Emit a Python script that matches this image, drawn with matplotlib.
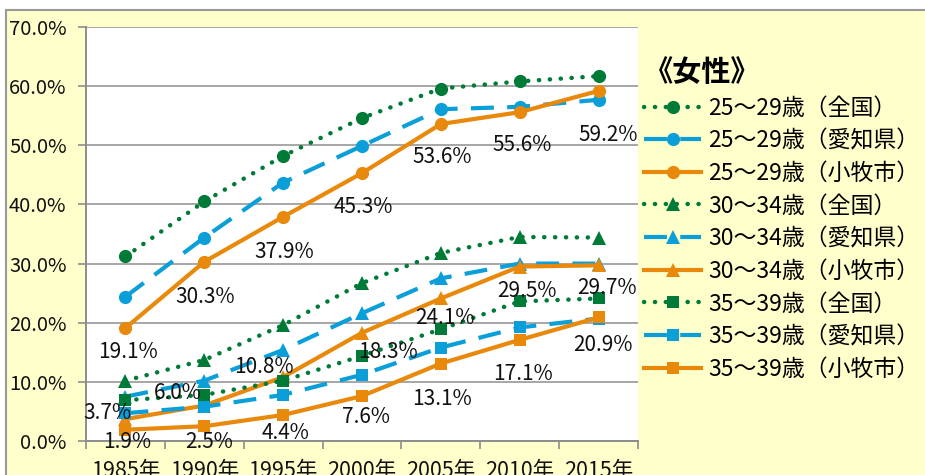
import matplotlib
matplotlib.use("Agg")
import matplotlib.pyplot as plt
from matplotlib.patches import Rectangle
from matplotlib.ticker import FixedLocator

plt.rcParams['font.family'] = ['Noto Sans CJK JP', 'DejaVu Sans']

years = ["1985年", "1990年", "1995年", "2000年", "2005年", "2010年", "2015年"]

# 25～29歳
f25_zenkoku = [31.2, 40.5, 48.2, 54.6, 59.6, 60.8, 61.7]
f25_aichi = [24.4, 34.4, 43.7, 49.9, 56.1, 56.5, 57.7]
f25_komaki = [19.1, 30.3, 37.9, 45.3, 53.6, 55.6, 59.2]
# 30～34歳
f30_zenkoku = [10.2, 13.7, 19.6, 26.7, 31.8, 34.5, 34.4]
f30_aichi = [7.5, 10.2, 15.4, 21.6, 27.5, 30.0, 30.0]
f30_komaki = [3.7, 6.0, 10.8, 18.3, 24.1, 29.5, 29.7]
# 35～39歳
f35_zenkoku = [6.9, 7.8, 10.2, 14.4, 18.9, 23.6, 24.1]
f35_aichi = [4.7, 5.8, 7.8, 11.2, 15.8, 19.2, 20.7]
f35_komaki = [1.9, 2.5, 4.4, 7.6, 13.1, 17.1, 20.9]

series_labels = [
    "25～29歳（全国）", "25～29歳（愛知県）", "25～29歳（小牧市）",
    "30～34歳（全国）", "30～34歳（愛知県）", "30～34歳（小牧市）",
    "35～39歳（全国）", "35～39歳（愛知県）", "35～39歳（小牧市）",
]
series_values = [f25_zenkoku, f25_aichi, f25_komaki,
                 f30_zenkoku, f30_aichi, f30_komaki,
                 f35_zenkoku, f35_aichi, f35_komaki]

# label offsets in pixels (dx right, dy down) for 小牧市 data labels
off25 = [(3, 24), (1, 35), (1, 35), (1, 34), (1, 33), (2, 33), (10, 44)]
off30 = [(-18, -6), (-26, -13), (-19, -10), (26, 19), (4, 20), (7, 24), (8, 23)]
off35 = [(2, 12), (5, 16), (2, 18), (4, 21), (1, 35), (3, 34), (4, 28)]

GREEN = "#007A37"
BLUE = "#0A9FD8"
ORANGE = "#E8890C"
BG = "#FFFFCC"

styles = {
    "全国": dict(color=GREEN, linestyle=(0, (0.05, 2.4)), dash_capstyle="round", linewidth=3.2),
    "愛知県": dict(color=BLUE, linestyle=(0, (5.5, 3.2)), linewidth=3.0),
    "小牧市": dict(color=ORANGE, linestyle="-", linewidth=3.0),
}
markers = {"25": ("o", 9.5), "30": ("^", 9.5), "35": ("s", 8.5)}

fig = plt.figure(figsize=(9.25, 4.75), dpi=100, facecolor="white")
fig.patches.append(Rectangle((6 / 925, -0.1), 1.0, 1 - 10 / 475 + 0.1,
                             transform=fig.transFigure, facecolor=BG,
                             edgecolor="#9A9A9A", linewidth=1.5, zorder=-5))

ax = fig.add_axes([86 / 925, 1 - 441 / 475, 552 / 925, 414 / 475])
ax.set_facecolor("white")
x = list(range(len(years)))

for lab, vals in zip(series_labels, series_values):
    area = lab[lab.index("（") + 1:-1]
    m, ms = markers[lab[:2]]
    st = styles[area]
    ax.plot(x, vals, marker=m, markersize=ms, markeredgewidth=0,
            label=lab, **st)

for vals, offs in [(f25_komaki, off25), (f30_komaki, off30), (f35_komaki, off35)]:
    for xi, v, (dx, dy) in zip(x, vals, offs):
        ax.annotate(f"{v:.1f}%", (xi, v), xytext=(dx, -dy), textcoords="offset pixels",
                    ha="center", va="center", fontsize=15, color="#111111")

ax.set_xlim(-0.5, 6.5)
ax.set_ylim(0, 70)
ax.set_yticks(range(0, 71, 10))
ax.set_yticklabels([f"{t:.1f}%" for t in range(0, 71, 10)])
ax.set_xticks(x)
ax.set_xticklabels(years)
ax.xaxis.set_minor_locator(FixedLocator([i - 0.5 for i in range(8)]))
ax.tick_params(axis="x", which="major", length=0, pad=14, labelsize=15.5, colors="#111111")
ax.tick_params(axis="x", which="minor", length=6, width=1.2, color="#8C8C8C", direction="out")
ax.tick_params(axis="y", length=6, width=1.2, color="#8C8C8C", pad=8, labelsize=14.5,
               labelcolor="#111111")
ax.grid(axis="y", color="#A6A6A6", linewidth=1.4)
ax.set_axisbelow(True)
for s in ["top", "right"]:
    ax.spines[s].set_visible(False)
for s in ["left", "bottom"]:
    ax.spines[s].set_color("#8C8C8C")
    ax.spines[s].set_linewidth(1.4)

leg = fig.legend(loc="upper left", bbox_to_anchor=(644 / 925, 1 - 57 / 475),
                 frameon=False, fontsize=16.5, handlelength=2.5, handletextpad=0.3,
                 labelspacing=0.42, borderaxespad=0, borderpad=0,
                 title="《女性》", title_fontproperties={"size": 21, "weight": "bold"},
                 alignment="left")

fig.savefig("out.png", dpi=100, facecolor=fig.get_facecolor())
